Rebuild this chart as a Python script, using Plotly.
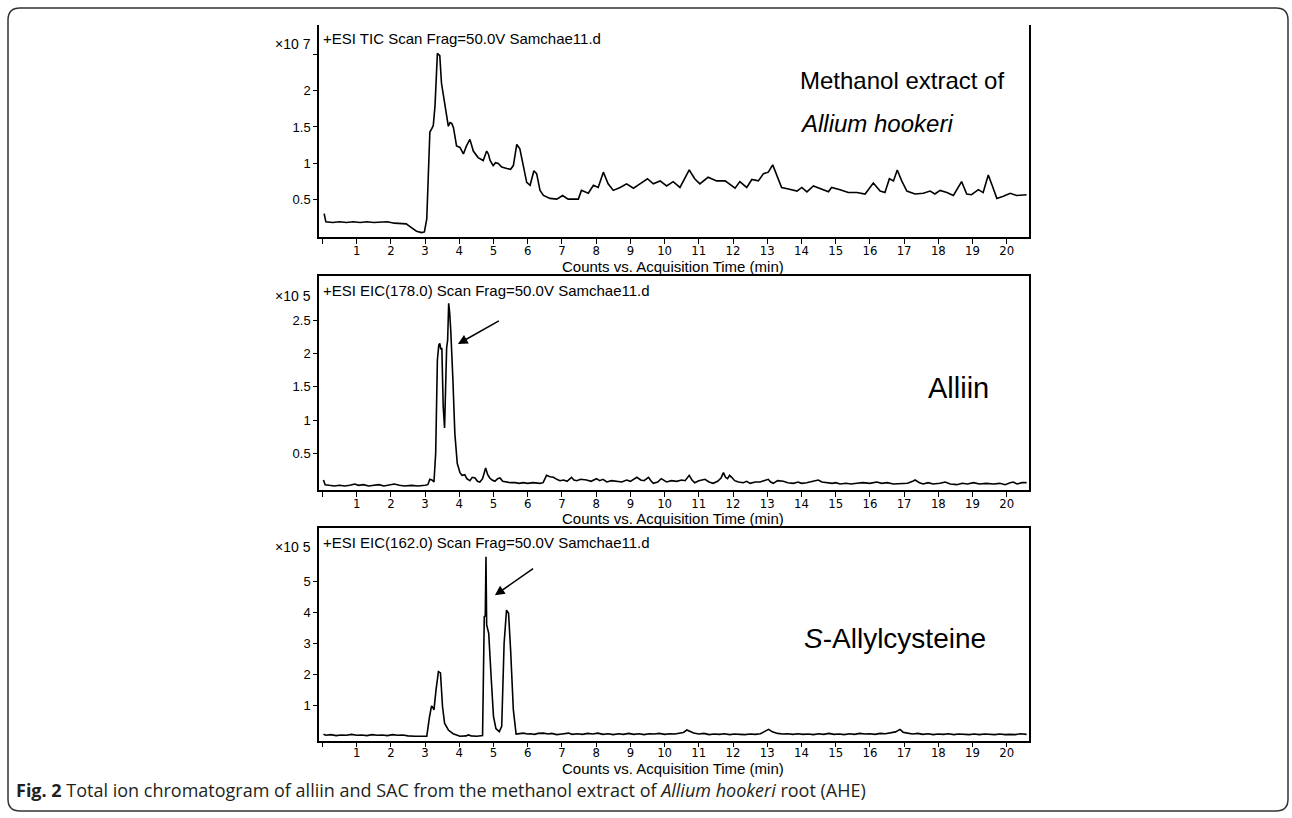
import plotly.graph_objects as go

W, H = 1292, 818

# ---------------- data ----------------
time_ticks = list(range(0, 21))
time_tick_labels = [""] + [str(i) for i in range(1, 21)]

# Total ion chromatogram, counts x10^7  (time min, intensity)
tic_points = [
    (0.05, 0.31), (0.10, 0.20), (0.30, 0.19), (0.50, 0.20), (0.70, 0.19), (0.90, 0.20),
    (1.10, 0.19), (1.30, 0.20), (1.50, 0.19), (1.70, 0.19), (1.90, 0.20), (2.10, 0.18),
    (2.30, 0.18), (2.45, 0.17), (2.60, 0.12), (2.75, 0.07), (2.90, 0.05), (2.98, 0.06),
    (3.05, 0.24), (3.10, 0.90), (3.14, 1.43), (3.20, 1.48), (3.24, 1.52), (3.29, 1.79),
    (3.36, 2.51), (3.43, 2.48), (3.48, 2.10), (3.53, 1.95), (3.58, 1.79), (3.68, 1.51),
    (3.73, 1.56), (3.78, 1.55), (3.83, 1.49), (3.92, 1.24), (4.02, 1.22), (4.12, 1.13),
    (4.21, 1.24), (4.31, 1.33), (4.41, 1.17), (4.55, 1.08), (4.70, 1.04), (4.80, 1.17),
    (4.85, 1.13), (4.90, 1.04), (4.99, 0.97), (5.06, 1.01), (5.14, 1.00), (5.24, 0.95),
    (5.39, 0.93), (5.50, 0.92), (5.58, 0.97), (5.68, 1.26), (5.77, 1.20), (5.87, 0.97),
    (5.97, 0.74), (6.07, 0.70), (6.18, 0.90), (6.26, 0.86), (6.36, 0.63), (6.46, 0.56),
    (6.65, 0.52), (6.85, 0.51), (7.02, 0.56), (7.18, 0.51), (7.43, 0.51), (7.48, 0.51),
    (7.57, 0.63), (7.77, 0.59), (7.92, 0.70), (8.06, 0.67), (8.21, 0.88), (8.35, 0.72),
    (8.50, 0.63), (8.70, 0.67), (8.89, 0.72), (9.09, 0.66), (9.28, 0.72), (9.50, 0.79),
    (9.67, 0.72), (9.87, 0.76), (10.06, 0.69), (10.25, 0.75), (10.45, 0.67), (10.72, 0.91),
    (10.88, 0.79), (11.03, 0.72), (11.27, 0.81), (11.52, 0.76), (11.77, 0.76), (12.06, 0.66),
    (12.20, 0.75), (12.40, 0.67), (12.55, 0.78), (12.74, 0.76), (12.89, 0.86), (13.03, 0.88),
    (13.16, 0.98), (13.28, 0.83), (13.42, 0.67), (13.62, 0.65), (13.87, 0.62), (14.01, 0.67),
    (14.16, 0.61), (14.35, 0.69), (14.60, 0.65), (14.79, 0.61), (14.88, 0.67), (15.13, 0.64),
    (15.37, 0.60), (15.62, 0.60), (15.86, 0.58), (16.10, 0.73), (16.30, 0.62), (16.44, 0.60),
    (16.57, 0.79), (16.69, 0.76), (16.80, 0.91), (16.93, 0.76), (17.08, 0.62), (17.32, 0.58),
    (17.56, 0.59), (17.76, 0.62), (17.90, 0.58), (18.05, 0.63), (18.25, 0.60), (18.44, 0.56),
    (18.68, 0.75), (18.83, 0.58), (18.97, 0.57), (19.17, 0.64), (19.31, 0.60), (19.46, 0.84),
    (19.58, 0.69), (19.71, 0.52), (19.90, 0.55), (20.10, 0.59), (20.29, 0.56), (20.58, 0.57),
]

# EIC m/z 178 (alliin), counts x10^5
eic178_points = [
    (0.03, 0.10), (0.08, 0.03), (0.20, 0.02), (0.35, 0.01), (0.50, 0.02), (0.65, 0.01),
    (0.80, 0.02), (0.95, 0.04), (1.05, 0.02), (1.20, 0.03), (1.35, 0.01), (1.50, 0.02),
    (1.65, 0.03), (1.80, 0.01), (1.95, 0.02), (2.10, 0.04), (2.25, 0.02), (2.40, 0.01),
    (2.60, 0.02), (2.80, 0.01), (3.00, 0.02), (3.08, 0.03), (3.14, 0.11), (3.20, 0.10),
    (3.26, 0.07), (3.31, 0.50), (3.36, 1.90), (3.40, 2.12), (3.43, 2.15), (3.46, 2.06),
    (3.49, 2.08), (3.53, 1.20), (3.57, 0.88), (3.60, 1.40), (3.63, 2.08), (3.66, 2.20),
    (3.69, 2.75), (3.72, 2.60), (3.75, 2.35), (3.81, 1.65), (3.87, 0.80), (3.94, 0.35),
    (4.02, 0.21), (4.08, 0.17), (4.16, 0.18), (4.22, 0.12), (4.31, 0.09), (4.38, 0.14),
    (4.46, 0.13), (4.53, 0.08), (4.60, 0.07), (4.68, 0.12), (4.77, 0.28), (4.83, 0.18),
    (4.89, 0.13), (4.96, 0.10), (5.04, 0.08), (5.12, 0.12), (5.19, 0.13), (5.27, 0.08),
    (5.38, 0.07), (5.50, 0.06), (5.63, 0.06), (5.75, 0.05), (5.87, 0.06), (6.00, 0.05),
    (6.15, 0.06), (6.36, 0.05), (6.45, 0.06), (6.55, 0.17), (6.65, 0.15), (6.75, 0.14),
    (6.85, 0.11), (6.94, 0.09), (7.05, 0.10), (7.15, 0.08), (7.28, 0.14), (7.35, 0.10),
    (7.43, 0.09), (7.55, 0.11), (7.72, 0.10), (7.85, 0.08), (8.01, 0.12), (8.10, 0.09),
    (8.20, 0.11), (8.31, 0.07), (8.45, 0.09), (8.60, 0.08), (8.75, 0.07), (8.89, 0.10),
    (9.00, 0.08), (9.19, 0.14), (9.30, 0.10), (9.40, 0.09), (9.53, 0.14), (9.60, 0.09),
    (9.67, 0.05), (9.80, 0.07), (9.90, 0.12), (10.06, 0.07), (10.20, 0.09), (10.35, 0.08),
    (10.50, 0.10), (10.60, 0.09), (10.72, 0.17), (10.80, 0.10), (10.88, 0.06), (11.00, 0.09),
    (11.18, 0.11), (11.30, 0.07), (11.42, 0.05), (11.55, 0.08), (11.65, 0.13), (11.72, 0.21),
    (11.78, 0.14), (11.84, 0.12), (11.90, 0.17), (11.96, 0.14), (12.05, 0.09), (12.16, 0.07),
    (12.30, 0.06), (12.40, 0.08), (12.50, 0.05), (12.65, 0.07), (12.79, 0.07), (12.90, 0.09),
    (13.03, 0.11), (13.10, 0.07), (13.18, 0.05), (13.30, 0.09), (13.47, 0.08), (13.60, 0.06),
    (13.77, 0.05), (13.90, 0.07), (14.00, 0.05), (14.15, 0.06), (14.30, 0.08), (14.49, 0.10),
    (14.60, 0.07), (14.74, 0.06), (14.90, 0.05), (15.00, 0.06), (15.13, 0.04), (15.30, 0.05),
    (15.45, 0.04), (15.62, 0.05), (15.80, 0.06), (16.00, 0.05), (16.20, 0.07), (16.35, 0.05),
    (16.50, 0.06), (16.69, 0.04), (16.90, 0.05), (17.10, 0.05), (17.25, 0.08), (17.32, 0.10),
    (17.45, 0.06), (17.56, 0.04), (17.70, 0.06), (17.85, 0.04), (18.05, 0.05), (18.20, 0.07),
    (18.35, 0.04), (18.54, 0.03), (18.70, 0.05), (18.85, 0.04), (19.03, 0.06), (19.20, 0.04),
    (19.40, 0.05), (19.61, 0.04), (19.80, 0.05), (19.95, 0.03), (20.10, 0.06), (20.19, 0.07),
    (20.30, 0.04), (20.45, 0.06), (20.58, 0.06),
]

# EIC m/z 162 (S-allylcysteine), counts x10^5
eic162_points = [
    (0.03, 0.06), (0.10, 0.03), (0.25, 0.05), (0.40, 0.02), (0.55, 0.04), (0.70, 0.03),
    (0.85, 0.06), (1.00, 0.03), (1.15, 0.04), (1.30, 0.02), (1.45, 0.05), (1.60, 0.03),
    (1.75, 0.04), (1.90, 0.02), (2.05, 0.05), (2.20, 0.03), (2.35, 0.04), (2.50, 0.01),
    (2.70, 0.00), (2.90, 0.00), (3.05, 0.00), (3.13, 0.63), (3.19, 0.98), (3.23, 0.92),
    (3.26, 0.85), (3.32, 1.50), (3.39, 2.09), (3.45, 2.05), (3.51, 0.96), (3.57, 0.42),
    (3.68, 0.20), (3.82, 0.08), (4.02, 0.00), (4.20, 0.01), (4.26, 0.04), (4.35, 0.01),
    (4.51, 0.00), (4.68, 0.02), (4.71, 2.00), (4.73, 3.87), (4.76, 3.90), (4.78, 5.81),
    (4.80, 3.60), (4.86, 3.33), (4.93, 1.93), (5.00, 0.63), (5.07, 0.25), (5.17, 0.15),
    (5.24, 0.32), (5.31, 3.01), (5.38, 4.08), (5.44, 3.98), (5.50, 2.79), (5.58, 0.85),
    (5.66, 0.07), (5.75, 0.09), (5.87, 0.10), (6.00, 0.07), (6.07, 0.08), (6.20, 0.06),
    (6.30, 0.09), (6.46, 0.10), (6.60, 0.07), (6.70, 0.09), (6.85, 0.05), (7.00, 0.07),
    (7.19, 0.10), (7.30, 0.06), (7.45, 0.08), (7.60, 0.06), (7.75, 0.09), (7.90, 0.07),
    (8.05, 0.10), (8.20, 0.06), (8.35, 0.08), (8.50, 0.05), (8.65, 0.08), (8.80, 0.06),
    (8.95, 0.09), (9.10, 0.06), (9.25, 0.08), (9.40, 0.05), (9.55, 0.08), (9.70, 0.07),
    (9.85, 0.09), (10.00, 0.06), (10.15, 0.08), (10.30, 0.07), (10.45, 0.10), (10.55, 0.12),
    (10.65, 0.20), (10.75, 0.14), (10.85, 0.10), (11.00, 0.07), (11.15, 0.09), (11.30, 0.05),
    (11.45, 0.07), (11.60, 0.06), (11.75, 0.08), (11.90, 0.05), (12.05, 0.07), (12.20, 0.06),
    (12.35, 0.05), (12.50, 0.07), (12.65, 0.06), (12.80, 0.08), (12.92, 0.14), (13.04, 0.22),
    (13.15, 0.14), (13.30, 0.09), (13.45, 0.07), (13.60, 0.08), (13.75, 0.06), (13.90, 0.08),
    (14.05, 0.06), (14.20, 0.07), (14.35, 0.05), (14.50, 0.08), (14.65, 0.06), (14.80, 0.09),
    (14.95, 0.06), (15.10, 0.07), (15.25, 0.05), (15.40, 0.08), (15.55, 0.06), (15.70, 0.09),
    (15.85, 0.07), (16.00, 0.08), (16.15, 0.06), (16.30, 0.09), (16.45, 0.08), (16.60, 0.12),
    (16.75, 0.14), (16.88, 0.22), (16.97, 0.13), (17.10, 0.10), (17.25, 0.07), (17.40, 0.09),
    (17.55, 0.06), (17.70, 0.08), (17.85, 0.05), (18.00, 0.07), (18.15, 0.06), (18.30, 0.08),
    (18.45, 0.05), (18.60, 0.07), (18.75, 0.06), (18.90, 0.05), (19.05, 0.07), (19.20, 0.05),
    (19.35, 0.07), (19.50, 0.06), (19.65, 0.05), (19.80, 0.07), (19.95, 0.05), (20.10, 0.06),
    (20.25, 0.05), (20.40, 0.08), (20.58, 0.06),
]

panel_headers = [
    "+ESI TIC Scan Frag=50.0V Samchae11.d",
    "+ESI EIC(178.0) Scan Frag=50.0V Samchae11.d",
    "+ESI EIC(162.0) Scan Frag=50.0V Samchae11.d",
]
panel_exponents = ["\u00d710 7", "\u00d710 5", "\u00d710 5"]
x_title = "Counts vs. Acquisition Time (min)"

tic_yticks = [0.5, 1, 1.5, 2, 2.5]
tic_yticklabels = ["0.5", "1", "1.5", "2", ""]
eic178_yticks = [0.5, 1, 1.5, 2, 2.5]
eic178_yticklabels = ["0.5", "1", "1.5", "2", "2.5"]
eic162_yticks = [1, 2, 3, 4, 5]
eic162_yticklabels = ["1", "2", "3", "4", "5"]

# arrow (tail -> head) in data units
alliin_arrow = {"tail": (5.2, 2.5), "head": (3.96, 2.14)}
sac_arrow = {"tail": (6.2, 5.46), "head": (5.04, 4.56)}

caption = ("<b>Fig. 2</b> Total ion chromatogram of alliin and SAC from the methanol "
           "extract of <i>Allium hookeri</i> root (AHE)")

# ---------------- layout helpers ----------------
def px(x):
    return x / W


def py(y):
    return 1 - y / H


X_LEFT, X_RIGHT = 319, 1029
panels = [  # (top px, bottom px, y range, tick label standoff)
    (25, 237, [-0.01, 2.90], -4),
    (276, 490, [-0.05, 3.16], -4),
    (528, 740.7, [-0.146, 6.74], -6),
]
x_range = [-0.10, 20.65]

TICK_FONT = dict(family="Liberation Sans Narrow, DejaVu Sans Condensed, Liberation Sans, Arial",
                 size=13, color="black")
TITLE_FONT = dict(family="Liberation Sans, Arial", size=15, color="black")
YTICK_FONT = dict(family="Liberation Sans, Arial", size=13, color="black")

fig = go.Figure()

series = [tic_points, eic178_points, eic162_points]
for i, pts in enumerate(series):
    t = [p[0] for p in pts]
    v = [p[1] for p in pts]
    sfx = "" if i == 0 else str(i + 1)
    fig.add_trace(go.Scatter(x=t, y=v, mode="lines",
                             line=dict(color="black", width=1.6),
                             xaxis="x" + sfx, yaxis="y" + sfx,
                             showlegend=False, hoverinfo="skip"))

ytick_sets = [(tic_yticks, tic_yticklabels), (eic178_yticks, eic178_yticklabels),
              (eic162_yticks, eic162_yticklabels)]

layout = dict(width=W, height=H, margin=dict(l=0, r=0, t=0, b=0),
              paper_bgcolor="white", plot_bgcolor="white", showlegend=False)

for i, (top, bot, yr, standoff) in enumerate(panels):
    sfx = "" if i == 0 else str(i + 1)
    layout["xaxis" + sfx] = dict(
        domain=[px(X_LEFT), px(X_RIGHT)], range=x_range, anchor="y" + sfx,
        tickmode="array", tickvals=time_ticks, ticktext=time_tick_labels,
        ticks="outside", ticklen=5, tickwidth=1, tickcolor="black",
        ticklabelstandoff=standoff,
        showline=True, linecolor="black", linewidth=1.5,
        mirror=(i > 0), showgrid=False, zeroline=False, tickfont=TICK_FONT,
    )
    tv, tt = ytick_sets[i]
    layout["yaxis" + sfx] = dict(
        domain=[py(bot), py(top)], range=yr, anchor="x" + sfx,
        tickmode="array", tickvals=tv, ticktext=tt,
        ticks="outside", ticklen=4, tickwidth=1, tickcolor="black",
        showline=True, linecolor="black", linewidth=1.5, mirror=True,
        showgrid=False, zeroline=False, tickfont=YTICK_FONT,
    )

fig.update_layout(**layout)

annotations = []
header_y = [39, 290, 542]
exp_y = [44, 296, 547]
title_y = [267, 518, 768.5]
for i in range(3):
    annotations.append(dict(xref="paper", yref="paper", x=px(321), y=py(header_y[i]),
                            xanchor="left", yanchor="middle", showarrow=False,
                            text=panel_headers[i],
                            font=dict(family="Liberation Sans, Arial", size=15, color="black")))
    annotations.append(dict(xref="paper", yref="paper", x=px(313), y=py(exp_y[i]),
                            xanchor="right", yanchor="middle", showarrow=False,
                            text=panel_exponents[i],
                            font=dict(family="Liberation Sans, Arial", size=14, color="black")))
    annotations.append(dict(xref="paper", yref="paper", x=px(673), y=py(title_y[i]),
                            xanchor="center", yanchor="middle", showarrow=False,
                            text=x_title, font=TITLE_FONT, borderpad=0))

BIG = "Liberation Sans, Arial"
annotations += [
    dict(xref="paper", yref="paper", x=px(798), y=py(80), xanchor="left", yanchor="middle",
         showarrow=False, text="Methanol extract of",
         font=dict(family=BIG, size=24, color="black")),
    dict(xref="paper", yref="paper", x=px(798), y=py(123), xanchor="left", yanchor="middle",
         showarrow=False, text="<i>Allium hookeri</i>",
         font=dict(family=BIG, size=24, color="black")),
    dict(xref="paper", yref="paper", x=px(926), y=py(388), xanchor="left", yanchor="middle",
         showarrow=False, text="Alliin",
         font=dict(family=BIG, size=29, color="black")),
    dict(xref="paper", yref="paper", x=px(802), y=py(638), xanchor="left", yanchor="middle",
         showarrow=False, text="<i>S</i>-Allylcysteine",
         font=dict(family=BIG, size=28, color="black")),
]

for arrow, sfx in [(alliin_arrow, "2"), (sac_arrow, "3")]:
    annotations.append(dict(xref="x" + sfx, yref="y" + sfx, axref="x" + sfx, ayref="y" + sfx,
                            x=arrow["head"][0], y=arrow["head"][1],
                            ax=arrow["tail"][0], ay=arrow["tail"][1],
                            text="", showarrow=True, arrowhead=2, arrowsize=1.3,
                            arrowwidth=1.5, arrowcolor="black"))

annotations.append(dict(xref="paper", yref="paper", x=px(15), y=py(790), xanchor="left",
                        yanchor="middle", showarrow=False, text=caption, borderpad=0,
                        font=dict(family="Open Sans, Noto Sans, sans-serif", size=18,
                                  color="#231f20")))
fig.update_layout(annotations=annotations)

# rounded outer frame
L, T, R, B, r = 8, 8, 1288, 811, 12
path = (f"M {px(L + r)},{py(T)} L {px(R - r)},{py(T)} Q {px(R)},{py(T)} {px(R)},{py(T + r)} "
        f"L {px(R)},{py(B - r)} Q {px(R)},{py(B)} {px(R - r)},{py(B)} "
        f"L {px(L + r)},{py(B)} Q {px(L)},{py(B)} {px(L)},{py(B - r)} "
        f"L {px(L)},{py(T + r)} Q {px(L)},{py(T)} {px(L + r)},{py(T)} Z")
fig.add_shape(type="path", xref="paper", yref="paper", path=path,
              line=dict(color="#333333", width=1.5), fillcolor="rgba(0,0,0,0)")

fig.write_html("out.html", config={"displayModeBar": False},
               post_script="document.body.style.margin='0';"
                           "document.body.style.overflow='hidden';")
